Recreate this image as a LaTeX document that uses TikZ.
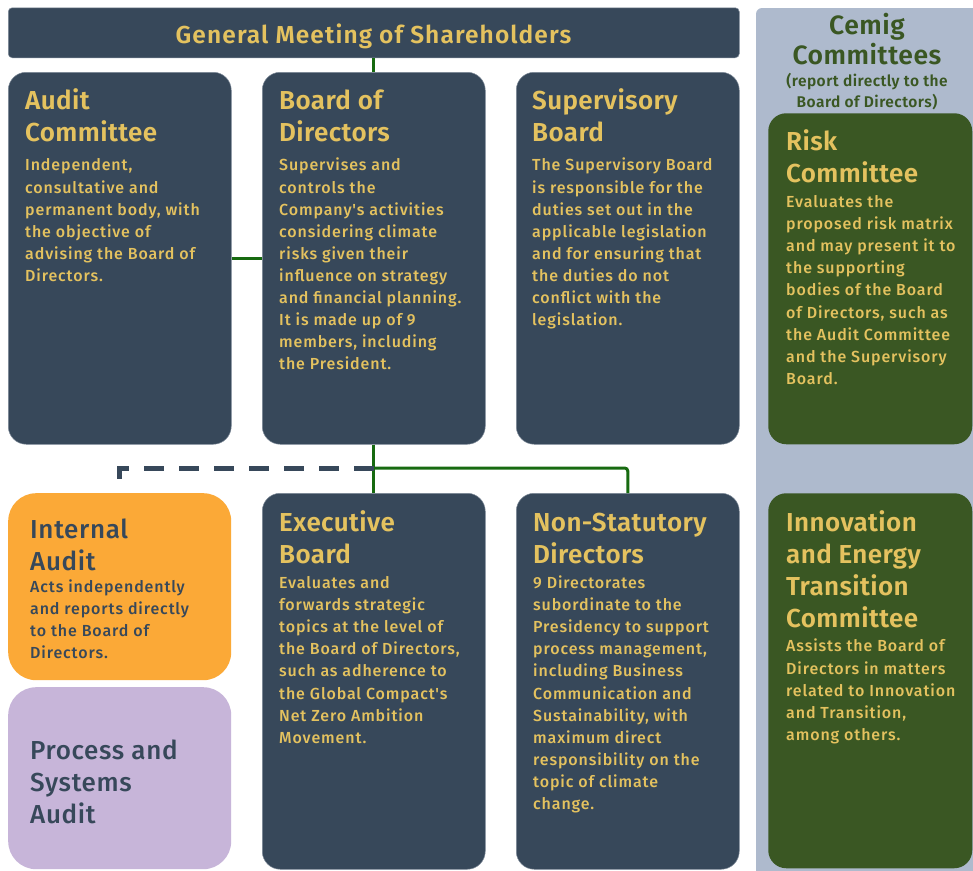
\documentclass[tikz,border=0pt]{standalone}
\usepackage{fontspec}
\setmainfont{Fira Sans}[UprightFont={* Medium},BoldFont={* SemiBold},Ligatures=TeXOff]
\definecolor{slate}{HTML}{37485A}
\definecolor{cardedge}{HTML}{7F8B99}
\definecolor{gold}{HTML}{E4C25F}
\definecolor{leaf}{HTML}{3A5723}
\definecolor{panel}{HTML}{AEBACD}
\definecolor{linkgreen}{HTML}{176A10}
\definecolor{amber}{HTML}{FBA937}
\definecolor{lilac}{HTML}{C7B5D9}
\newcommand\tstrut{\rule{0pt}{26pt}}
\newcommand\bstrut{\rule{0pt}{16pt}}
\begin{document}
\begin{tikzpicture}[x=1pt,y=-1pt,
  card/.style={draw=cardedge, line width=0.5pt, fill=slate, rounded corners=18pt,
    anchor=north west, inner sep=0pt, minimum width=223pt},
  greencard/.style={card, fill=leaf, draw=none, minimum width=204pt},
  softcard/.style={anchor=north west, inner sep=0pt, rounded corners=28pt,
    minimum width=223pt, draw=none},
  ttl/.style={anchor=north west, inner sep=0pt, align=left, text=gold,
    font=\fontsize{26}{32}\selectfont\bfseries\addfontfeatures{LetterSpace=1.5}},
  plainttl/.style={ttl, text=slate,
    font=\fontsize{26}{32}\selectfont\addfontfeatures{LetterSpace=2.5}},
  bdy/.style={anchor=north west, inner sep=0pt, align=left, text=gold,
    font=\fontsize{16}{22.1}\selectfont\addfontfeatures{LetterSpace=5.5}},
  link/.style={draw=linkgreen, line width=3pt},
  dotted link/.style={draw=slate, line width=5pt, dash pattern=on 20pt off 15pt}]

\clip (0,0) rectangle (973,870);
\fill[white] (0,0) rectangle (973,870);

% committees panel on the right
\fill[panel, rounded corners=6pt] (756,8) rectangle (1000,900);
\node[anchor=north, inner sep=0pt, align=center, text=leaf,
  font=\fontsize{26.5}{30.7}\selectfont\bfseries\addfontfeatures{LetterSpace=2}] (cemigT) at (867,7.8)
  {\tstrut Cemig\\Committees};
\node[anchor=north, inner sep=0pt, align=center, text=leaf,
  font=\fontsize{15.5}{21.7}\selectfont\bfseries\addfontfeatures{LetterSpace=3}] (cemigS) at (867,70)
  {\bstrut(report directly to the\\Board of Directors)};

% top bar
\node[card, rounded corners=4pt, minimum width=731pt, minimum height=50pt] (gm) at (8,7.5) {};
\node[anchor=north, inner sep=0pt, text=gold,
  font=\fontsize{24.5}{28}\selectfont\bfseries\addfontfeatures{LetterSpace=4.5}]
  (gmT) at (373.5,18.8) {\rule{0pt}{24.5pt}General Meeting of Shareholders};

% first row
\node[card, minimum height=372pt] (audit) at (8,72) {};
\node[card, minimum height=372pt] (bod) at (262,72) {};
\node[card, minimum height=372pt] (sup) at (516,72) {};
\node[greencard, minimum height=331pt] (risk) at (768,113) {};

% second row
\node[softcard, fill=amber, minimum height=187pt] (ia) at (8,493) {};
\node[softcard, fill=lilac, minimum height=182pt] (psa) at (8,687) {};
\node[card, minimum height=376pt] (exe) at (262,493) {};
\node[card, minimum height=376pt] (nsd) at (516,493) {};
\node[greencard, minimum height=375pt] (inn) at (768,493) {};

% connectors
\coordinate (hub) at (373.5,468);
\draw[link] (gm.south) -- (bod.north);
\draw[link] (audit.east) -- (bod.west);
\draw[link] (bod.south) -- (exe.north);
\draw[link, rounded corners=3pt] (hub) -| (nsd.north);
\draw[dotted link] (hub) -| (ia.north);

% texts
\node[ttl] (auditT) at (25,83) {\tstrut Audit\\Committee};
\node[bdy] (auditB) at (25,154.7) {\bstrut Independent,\\consultative and\\permanent body, with\\the objective of\\advising the Board of\\Directors.};

\node[ttl] (bodT) at (279,83) {\tstrut Board of\\Directors};
\node[bdy] (bodB) at (279,154.7) {\bstrut Supervises and\\controls the\\Company's activities\\considering climate\\risks given their\\influence on strategy\\and financial planning.\\It is made up of 9\\members, including\\the President.};

\node[ttl] (supT) at (532,83) {\tstrut Supervisory\\Board};
\node[bdy] (supB) at (532,154.7) {\bstrut The Supervisory Board\\is responsible for the\\duties set out in the\\applicable legislation\\and for ensuring that\\the duties do not\\conflict with the\\legislation.};

\node[ttl] (riskT) at (786,124) {\tstrut Risk\\Committee};
\node[bdy] (riskB) at (786,191.3) {\bstrut Evaluates the\\proposed risk matrix\\and may present it to\\the supporting\\bodies of the Board\\of Directors, such as\\the Audit Committee\\and the Supervisory\\Board.};

\node[plainttl] (iaT) at (30,512) {\tstrut Internal\\Audit};
\node[bdy, text=slate] (iaB) at (30,576.3) {\bstrut Acts independently\\and reports directly\\to the Board of\\Directors.};

\node[plainttl] (psaT) at (30,733) {\tstrut Process and\\Systems\\Audit};

\node[ttl] (exeT) at (279,505.7) {\tstrut Executive\\Board};
\node[bdy] (exeB) at (279,572.3) {\bstrut Evaluates and\\forwards strategic\\topics at the level of\\the Board of Directors,\\such as adherence to\\the Global Compact's\\Net Zero Ambition\\Movement.};

\node[ttl] (nsdT) at (533,505.7) {\tstrut Non-Statutory\\Directors};
\node[bdy] (nsdB) at (533,572.3) {\bstrut 9 Directorates\\subordinate to the\\Presidency to support\\process management,\\including Business\\Communication and\\Sustainability, with\\maximum direct\\responsibility on the\\topic of climate\\change.};

\node[ttl] (innT) at (786,505.7) {\tstrut Innovation\\and Energy\\Transition\\Committee};
\node[bdy] (innB) at (786,635.7) {\bstrut Assists the Board of\\Directors in matters\\related to Innovation\\and Transition,\\among others.};
\end{tikzpicture}
\end{document}
